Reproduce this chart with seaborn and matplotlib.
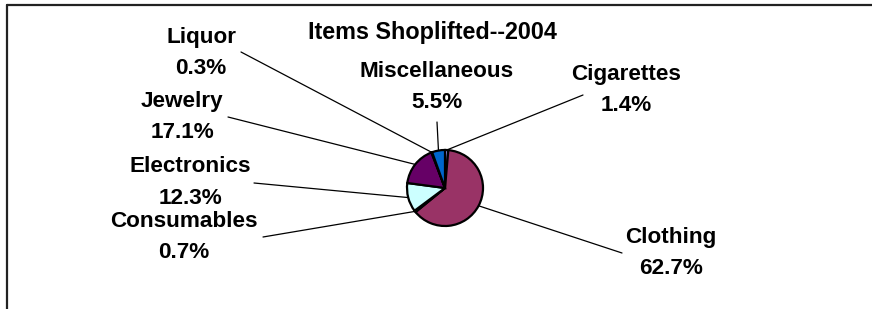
import numpy as np
import matplotlib
matplotlib.use("Agg")
import matplotlib.pyplot as plt
import seaborn as sns

# ---- data ----
categories = ["Cigarettes", "Clothing", "Consumables", "Electronics",
              "Jewelry", "Liquor", "Miscellaneous"]
shares = [1.4, 62.7, 0.7, 12.3, 17.1, 0.3, 5.5]
pct_labels = ["1.4%", "62.7%", "0.7%", "12.3%", "17.1%", "0.3%", "5.5%"]
title = "Items Shoplifted--2004"

# ---- style ----
colors = ["#9999FF", "#993366", "#FFFFCC", "#CCFFFF", "#660066", "#FF8080", "#0066CC"]
sns.set_style("white")
plt.rcParams["font.family"] = ["Liberation Sans", "DejaVu Sans"]
plt.rcParams["text.color"] = "black"

W, H = 872, 309
fig = plt.figure(figsize=(W / 100, H / 100), dpi=100)
ax = fig.add_axes([0, 0, 1, 1])

def fy(y):  # pixel row -> data y
    return H - y

cx, cy, r = 445, fy(188), 38
wedges, _ = ax.pie(shares, colors=colors, startangle=90, counterclock=False,
                   center=(cx, cy), radius=r,
                   wedgeprops=dict(edgecolor="black", linewidth=1.6))
ax.set_xlim(0, W)
ax.set_ylim(0, H)
ax.set_aspect("equal")
ax.axis("off")

# label block centres (pixels) and leader line outer ends (pixels)
label_pos = {
    "Cigarettes": (626, 90),
    "Clothing": (671, 252.5),
    "Consumables": (184, 237),
    "Electronics": (190, 182.5),
    "Jewelry": (182, 117.5),
    "Liquor": (201, 52.5),
    "Miscellaneous": (437, 87),
}
leader_end = {
    "Cigarettes": (583, 95),
    "Clothing": (622, 253),
    "Consumables": (263, 237),
    "Electronics": (254, 183),
    "Jewelry": (228, 117),
    "Liquor": (241, 52),
    "Miscellaneous": (437, 122),
}

total = sum(shares)
cum = 0.0
for cat, v, pl in zip(categories, shares, pct_labels):
    mid = cum + v / 2
    cum += v
    ang = np.deg2rad(90 - 360 * mid / total)
    ex, ey = cx + r * np.cos(ang), cy + r * np.sin(ang)
    lx, ly = leader_end[cat]
    ax.plot([lx, ex], [fy(ly), ey], color="black", lw=0.9, zorder=0)
    tx, ty = label_pos[cat]
    ax.text(tx, fy(ty - 15.5), cat, ha="center", va="center",
            fontsize=16.2, fontweight="bold", color="black")
    ax.text(tx, fy(ty + 15.5), pl, ha="center", va="center",
            fontsize=16.2, fontweight="bold", color="black")

ax.text(432, fy(33), title, ha="center", va="center",
        fontsize=16.8, fontweight="bold", color="black")

# chart frame (cropped)
ax.plot([7, W], [fy(5), fy(5)], color="#222222", lw=1.6, clip_on=False)
ax.plot([7, 7], [fy(5), fy(H)], color="#222222", lw=1.6, clip_on=False)

fig.savefig("out.png", dpi=100, facecolor="white")
